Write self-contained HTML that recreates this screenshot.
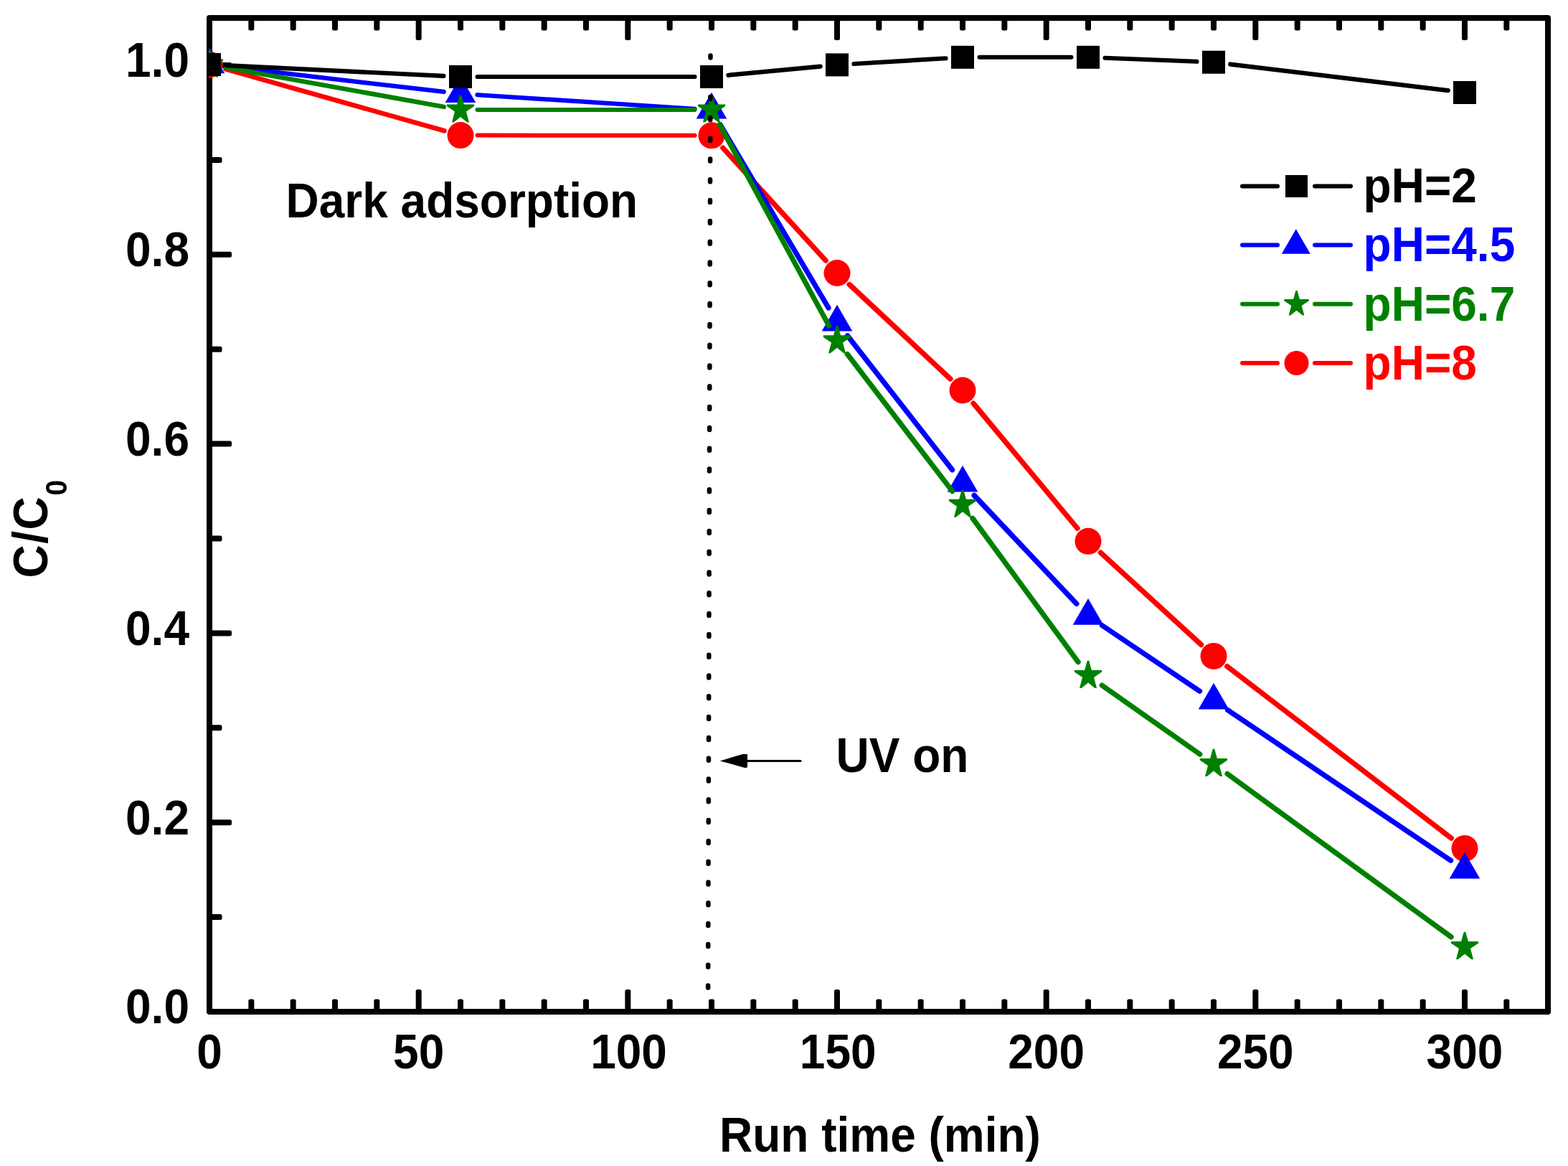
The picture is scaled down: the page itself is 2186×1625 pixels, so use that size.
<!DOCTYPE html>
<html><head><meta charset="utf-8"><title>C/C0 vs Run time</title>
<style>html,body{margin:0;padding:0;background:#fff;overflow:hidden}svg{display:block}</style>
</head><body>
<svg width="2186" height="1625" viewBox="0 0 2186 1625">
<defs><clipPath id="pc"><rect x="291" y="21" width="1871" height="1393"/></clipPath></defs>
<rect width="2186" height="1625" fill="#fff"/>
<g font-family="'Liberation Sans', Arial, sans-serif" font-weight="bold">
<g fill="#000"><rect x="346.33" y="1392.50" width="8" height="21.5" rx="2.5"/><rect x="346.33" y="21" width="8" height="21.5" rx="2.5"/><rect x="404.67" y="1392.50" width="8" height="21.5" rx="2.5"/><rect x="404.67" y="21" width="8" height="21.5" rx="2.5"/><rect x="463.00" y="1392.50" width="8" height="21.5" rx="2.5"/><rect x="463.00" y="21" width="8" height="21.5" rx="2.5"/><rect x="521.33" y="1392.50" width="8" height="21.5" rx="2.5"/><rect x="521.33" y="21" width="8" height="21.5" rx="2.5"/><rect x="579.67" y="1379.00" width="8" height="35" rx="2.5"/><rect x="579.67" y="21" width="8" height="35" rx="2.5"/><rect x="638.00" y="1392.50" width="8" height="21.5" rx="2.5"/><rect x="638.00" y="21" width="8" height="21.5" rx="2.5"/><rect x="696.33" y="1392.50" width="8" height="21.5" rx="2.5"/><rect x="696.33" y="21" width="8" height="21.5" rx="2.5"/><rect x="754.67" y="1392.50" width="8" height="21.5" rx="2.5"/><rect x="754.67" y="21" width="8" height="21.5" rx="2.5"/><rect x="813.00" y="1392.50" width="8" height="21.5" rx="2.5"/><rect x="813.00" y="21" width="8" height="21.5" rx="2.5"/><rect x="871.33" y="1379.00" width="8" height="35" rx="2.5"/><rect x="871.33" y="21" width="8" height="35" rx="2.5"/><rect x="929.67" y="1392.50" width="8" height="21.5" rx="2.5"/><rect x="929.67" y="21" width="8" height="21.5" rx="2.5"/><rect x="988.00" y="1392.50" width="8" height="21.5" rx="2.5"/><rect x="988.00" y="21" width="8" height="21.5" rx="2.5"/><rect x="1046.33" y="1392.50" width="8" height="21.5" rx="2.5"/><rect x="1046.33" y="21" width="8" height="21.5" rx="2.5"/><rect x="1104.67" y="1392.50" width="8" height="21.5" rx="2.5"/><rect x="1104.67" y="21" width="8" height="21.5" rx="2.5"/><rect x="1163.00" y="1379.00" width="8" height="35" rx="2.5"/><rect x="1163.00" y="21" width="8" height="35" rx="2.5"/><rect x="1221.33" y="1392.50" width="8" height="21.5" rx="2.5"/><rect x="1221.33" y="21" width="8" height="21.5" rx="2.5"/><rect x="1279.67" y="1392.50" width="8" height="21.5" rx="2.5"/><rect x="1279.67" y="21" width="8" height="21.5" rx="2.5"/><rect x="1338.00" y="1392.50" width="8" height="21.5" rx="2.5"/><rect x="1338.00" y="21" width="8" height="21.5" rx="2.5"/><rect x="1396.33" y="1392.50" width="8" height="21.5" rx="2.5"/><rect x="1396.33" y="21" width="8" height="21.5" rx="2.5"/><rect x="1454.67" y="1379.00" width="8" height="35" rx="2.5"/><rect x="1454.67" y="21" width="8" height="35" rx="2.5"/><rect x="1513.00" y="1392.50" width="8" height="21.5" rx="2.5"/><rect x="1513.00" y="21" width="8" height="21.5" rx="2.5"/><rect x="1571.33" y="1392.50" width="8" height="21.5" rx="2.5"/><rect x="1571.33" y="21" width="8" height="21.5" rx="2.5"/><rect x="1629.67" y="1392.50" width="8" height="21.5" rx="2.5"/><rect x="1629.67" y="21" width="8" height="21.5" rx="2.5"/><rect x="1688.00" y="1392.50" width="8" height="21.5" rx="2.5"/><rect x="1688.00" y="21" width="8" height="21.5" rx="2.5"/><rect x="1746.33" y="1379.00" width="8" height="35" rx="2.5"/><rect x="1746.33" y="21" width="8" height="35" rx="2.5"/><rect x="1804.67" y="1392.50" width="8" height="21.5" rx="2.5"/><rect x="1804.67" y="21" width="8" height="21.5" rx="2.5"/><rect x="1863.00" y="1392.50" width="8" height="21.5" rx="2.5"/><rect x="1863.00" y="21" width="8" height="21.5" rx="2.5"/><rect x="1921.33" y="1392.50" width="8" height="21.5" rx="2.5"/><rect x="1921.33" y="21" width="8" height="21.5" rx="2.5"/><rect x="1979.67" y="1392.50" width="8" height="21.5" rx="2.5"/><rect x="1979.67" y="21" width="8" height="21.5" rx="2.5"/><rect x="2038.00" y="1379.00" width="8" height="35" rx="2.5"/><rect x="2038.00" y="21" width="8" height="35" rx="2.5"/><rect x="2096.33" y="1392.50" width="8" height="21.5" rx="2.5"/><rect x="2096.33" y="21" width="8" height="21.5" rx="2.5"/><rect x="288" y="1274.10" width="21.5" height="8" rx="2.5"/><rect x="288" y="1142.20" width="35" height="8" rx="2.5"/><rect x="288" y="1010.30" width="21.5" height="8" rx="2.5"/><rect x="288" y="878.40" width="35" height="8" rx="2.5"/><rect x="288" y="746.50" width="21.5" height="8" rx="2.5"/><rect x="288" y="614.60" width="35" height="8" rx="2.5"/><rect x="288" y="482.70" width="21.5" height="8" rx="2.5"/><rect x="288" y="350.80" width="35" height="8" rx="2.5"/><rect x="288" y="218.90" width="21.5" height="8" rx="2.5"/><rect x="288" y="87.00" width="35" height="8" rx="2.5"/></g><rect x="292" y="25" width="1866" height="1385" fill="none" stroke="#000" stroke-width="8" stroke-linejoin="round"/><g clip-path="url(#pc)"><g stroke="#FF0000" stroke-linecap="round" fill="none"><line x1="314.62" y1="96.37" x2="619.38" y2="182.23" stroke-width="6.68"/><line x1="665.50" y1="188.61" x2="968.50" y2="188.79" stroke-width="6.00"/><line x1="1007.84" y1="206.16" x2="1151.16" y2="363.14" stroke-width="7.29"/><line x1="1184.17" y1="396.54" x2="1324.83" y2="527.96" stroke-width="7.30"/><line x1="1357.03" y1="562.06" x2="1501.97" y2="736.24" stroke-width="7.28"/><line x1="1534.34" y1="770.16" x2="1674.66" y2="898.54" stroke-width="7.29"/><line x1="1710.66" y1="928.69" x2="2023.34" y2="1168.11" stroke-width="7.26"/></g><circle cx="292.00" cy="90.00" r="18.5" fill="#FF0000"/><circle cx="642.00" cy="188.60" r="18.5" fill="#FF0000"/><circle cx="992.00" cy="188.80" r="18.5" fill="#FF0000"/><circle cx="1167.00" cy="380.50" r="18.5" fill="#FF0000"/><circle cx="1342.00" cy="544.00" r="18.5" fill="#FF0000"/><circle cx="1517.00" cy="754.30" r="18.5" fill="#FF0000"/><circle cx="1692.00" cy="914.40" r="18.5" fill="#FF0000"/><circle cx="2042.00" cy="1182.40" r="18.5" fill="#FF0000"/><g stroke="#0000FF" stroke-linecap="round" fill="none"><line x1="315.34" y1="92.71" x2="618.66" y2="127.99" stroke-width="6.30"/><line x1="665.45" y1="132.21" x2="968.55" y2="151.79" stroke-width="6.17"/><line x1="1003.96" y1="173.53" x2="1155.04" y2="429.07" stroke-width="7.14"/><line x1="1181.47" y1="467.82" x2="1327.53" y2="654.78" stroke-width="7.26"/><line x1="1358.14" y1="690.38" x2="1500.86" y2="841.42" stroke-width="7.30"/><line x1="1536.49" y1="871.62" x2="1672.51" y2="963.18" stroke-width="7.20"/><line x1="1711.48" y1="989.44" x2="2022.52" y2="1199.16" stroke-width="7.21"/></g><polygon points="292.00,65.40 313.30,102.30 270.70,102.30" fill="#0000FF"/><polygon points="642.00,106.10 663.30,143.00 620.70,143.00" fill="#0000FF"/><polygon points="992.00,128.70 1013.30,165.60 970.70,165.60" fill="#0000FF"/><polygon points="1167.00,424.70 1188.30,461.60 1145.70,461.60" fill="#0000FF"/><polygon points="1342.00,648.70 1363.30,685.60 1320.70,685.60" fill="#0000FF"/><polygon points="1517.00,833.90 1538.30,870.80 1495.70,870.80" fill="#0000FF"/><polygon points="1692.00,951.70 1713.30,988.60 1670.70,988.60" fill="#0000FF"/><polygon points="2042.00,1187.70 2063.30,1224.60 2020.70,1224.60" fill="#0000FF"/><g stroke="#008000" stroke-linecap="round" fill="none"><line x1="315.13" y1="94.16" x2="618.87" y2="148.84" stroke-width="6.45"/><line x1="665.50" y1="153.00" x2="968.50" y2="153.00" stroke-width="6.00"/><line x1="1003.22" y1="173.65" x2="1155.78" y2="454.25" stroke-width="7.09"/><line x1="1181.29" y1="493.55" x2="1327.71" y2="684.65" stroke-width="7.26"/><line x1="1355.91" y1="722.24" x2="1503.09" y2="922.66" stroke-width="7.24"/><line x1="1536.23" y1="955.11" x2="1672.77" y2="1051.09" stroke-width="7.22"/><line x1="1710.99" y1="1078.44" x2="2023.01" y2="1305.76" stroke-width="7.24"/></g><polygon points="290.80,69.20 293.20,69.20 296.90,82.40 311.10,82.40 311.10,85.00 300.00,92.50 304.00,107.40 301.30,107.40 292.00,99.90 282.70,107.40 280.00,107.40 284.00,92.50 272.90,85.00 272.90,82.40 287.10,82.40" fill="#008000"/><polygon points="640.80,132.20 643.20,132.20 646.90,145.40 661.10,145.40 661.10,148.00 650.00,155.50 654.00,170.40 651.30,170.40 642.00,162.90 632.70,170.40 630.00,170.40 634.00,155.50 622.90,148.00 622.90,145.40 637.10,145.40" fill="#008000"/><polygon points="990.80,132.20 993.20,132.20 996.90,145.40 1011.10,145.40 1011.10,148.00 1000.00,155.50 1004.00,170.40 1001.30,170.40 992.00,162.90 982.70,170.40 980.00,170.40 984.00,155.50 972.90,148.00 972.90,145.40 987.10,145.40" fill="#008000"/><polygon points="1165.80,454.10 1168.20,454.10 1171.90,467.30 1186.10,467.30 1186.10,469.90 1175.00,477.40 1179.00,492.30 1176.30,492.30 1167.00,484.80 1157.70,492.30 1155.00,492.30 1159.00,477.40 1147.90,469.90 1147.90,467.30 1162.10,467.30" fill="#008000"/><polygon points="1340.80,682.50 1343.20,682.50 1346.90,695.70 1361.10,695.70 1361.10,698.30 1350.00,705.80 1354.00,720.70 1351.30,720.70 1342.00,713.20 1332.70,720.70 1330.00,720.70 1334.00,705.80 1322.90,698.30 1322.90,695.70 1337.10,695.70" fill="#008000"/><polygon points="1515.80,920.80 1518.20,920.80 1521.90,934.00 1536.10,934.00 1536.10,936.60 1525.00,944.10 1529.00,959.00 1526.30,959.00 1517.00,951.50 1507.70,959.00 1505.00,959.00 1509.00,944.10 1497.90,936.60 1497.90,934.00 1512.10,934.00" fill="#008000"/><polygon points="1690.80,1043.80 1693.20,1043.80 1696.90,1057.00 1711.10,1057.00 1711.10,1059.60 1700.00,1067.10 1704.00,1082.00 1701.30,1082.00 1692.00,1074.50 1682.70,1082.00 1680.00,1082.00 1684.00,1067.10 1672.90,1059.60 1672.90,1057.00 1687.10,1057.00" fill="#008000"/><polygon points="2040.80,1298.80 2043.20,1298.80 2046.90,1312.00 2061.10,1312.00 2061.10,1314.60 2050.00,1322.10 2054.00,1337.00 2051.30,1337.00 2042.00,1329.50 2032.70,1337.00 2030.00,1337.00 2034.00,1322.10 2022.90,1314.60 2022.90,1312.00 2037.10,1312.00" fill="#008000"/><g stroke="#000000" stroke-linecap="round" fill="none"><line x1="315.47" y1="91.14" x2="618.53" y2="105.86" stroke-width="6.13"/><line x1="665.50" y1="107.00" x2="968.50" y2="107.00" stroke-width="6.00"/><line x1="1015.39" y1="104.78" x2="1143.61" y2="92.62" stroke-width="6.24"/><line x1="1190.46" y1="88.98" x2="1318.54" y2="81.22" stroke-width="6.16"/><line x1="1365.50" y1="79.80" x2="1493.50" y2="79.80" stroke-width="6.00"/><line x1="1540.48" y1="80.73" x2="1668.52" y2="85.77" stroke-width="6.10"/><line x1="1715.33" y1="89.52" x2="2018.67" y2="126.18" stroke-width="6.31"/></g><rect x="276.00" y="74.00" width="32" height="32" fill="#000000"/><rect x="626.00" y="91.00" width="32" height="32" fill="#000000"/><rect x="976.00" y="91.00" width="32" height="32" fill="#000000"/><rect x="1151.00" y="74.40" width="32" height="32" fill="#000000"/><rect x="1326.00" y="63.80" width="32" height="32" fill="#000000"/><rect x="1501.00" y="63.80" width="32" height="32" fill="#000000"/><rect x="1676.00" y="70.70" width="32" height="32" fill="#000000"/><rect x="2026.00" y="113.00" width="32" height="32" fill="#000000"/></g><line x1="990.5" y1="77.5" x2="987.1" y2="1388" stroke="#000" stroke-width="6.5" stroke-linecap="round" stroke-dasharray="3 25.8"/><line x1="1040" y1="1060.4" x2="1116" y2="1060.4" stroke="#000" stroke-width="3" stroke-linecap="round"/><polygon points="1003.8,1060.4 1035.2,1051 1042,1051 1042,1068.8 1040.8,1069.9 1038,1069.9" fill="#000"/>
<text transform="translate(264,1426.30) scale(1,1.085)" text-anchor="end" fill="#000" font-size="64" >0.0</text><text transform="translate(264,1162.50) scale(1,1.085)" text-anchor="end" fill="#000" font-size="64" >0.2</text><text transform="translate(264,898.70) scale(1,1.085)" text-anchor="end" fill="#000" font-size="64" >0.4</text><text transform="translate(264,634.90) scale(1,1.085)" text-anchor="end" fill="#000" font-size="64" >0.6</text><text transform="translate(264,371.10) scale(1,1.085)" text-anchor="end" fill="#000" font-size="64" >0.8</text><text transform="translate(264,107.30) scale(1,1.085)" text-anchor="end" fill="#000" font-size="64" >1.0</text><text transform="translate(292.00,1489) scale(1,1.085)" text-anchor="middle" fill="#000" font-size="64" >0</text><text transform="translate(583.67,1489) scale(1,1.085)" text-anchor="middle" fill="#000" font-size="64" >50</text><text transform="translate(876.53,1489) scale(1,1.085)" text-anchor="middle" fill="#000" font-size="64" >100</text><text transform="translate(1168.20,1489) scale(1,1.085)" text-anchor="middle" fill="#000" font-size="64" >150</text><text transform="translate(1458.67,1489) scale(1,1.085)" text-anchor="middle" fill="#000" font-size="64" >200</text><text transform="translate(1750.33,1489) scale(1,1.085)" text-anchor="middle" fill="#000" font-size="64" >250</text><text transform="translate(2042.00,1489) scale(1,1.085)" text-anchor="middle" fill="#000" font-size="64" >300</text><text transform="translate(1003,1605.3) scale(1,1.085)" text-anchor="start" fill="#000" font-size="64" >Run time (min)</text><text transform="translate(65.9,805.5) rotate(-90) scale(1,1.085)" fill="#000" font-size="64" letter-spacing="1.5">C/C<tspan font-size="39" dx="0.3" dy="25.3">0</tspan></text><text transform="translate(398.5,302.5) scale(1,1.085)" text-anchor="start" fill="#000" font-size="64" >Dark adsorption</text><text transform="translate(1165.5,1076) scale(1,1.085)" text-anchor="start" fill="#000" font-size="64" >UV on</text><g stroke="#000000" stroke-width="6" stroke-linecap="round"><line x1="1732" y1="259.5" x2="1781" y2="259.5"/><line x1="1833" y1="259.5" x2="1883" y2="259.5"/></g><rect x="1792.00" y="244.00" width="31" height="31" fill="#000000"/><text transform="translate(1900.6,282) scale(1,1.085)" text-anchor="start" fill="#000000" font-size="64" >pH=2</text><g stroke="#0000FF" stroke-width="6" stroke-linecap="round"><line x1="1732" y1="341.6" x2="1781" y2="341.6"/><line x1="1833" y1="341.6" x2="1883" y2="341.6"/></g><polygon points="1806.80,319.21 1826.80,353.85 1786.80,353.85" fill="#0000FF"/><text transform="translate(1900.6,364.3) scale(1,1.085)" text-anchor="start" fill="#0000FF" font-size="64" >pH=4.5</text><g stroke="#008000" stroke-width="6" stroke-linecap="round"><line x1="1732" y1="423.8" x2="1781" y2="423.8"/><line x1="1833" y1="423.8" x2="1883" y2="423.8"/></g><polygon points="1806.41,404.98 1808.59,404.98 1811.93,416.92 1824.78,416.92 1824.78,419.28 1814.74,426.06 1818.36,439.54 1815.91,439.54 1807.50,432.76 1799.09,439.54 1796.64,439.54 1800.26,426.06 1790.22,419.28 1790.22,416.92 1803.07,416.92" fill="#008000"/><text transform="translate(1900.6,447) scale(1,1.085)" text-anchor="start" fill="#008000" font-size="64" >pH=6.7</text><g stroke="#FF0000" stroke-width="6" stroke-linecap="round"><line x1="1732" y1="506" x2="1781" y2="506"/><line x1="1833" y1="506" x2="1883" y2="506"/></g><circle cx="1807.50" cy="506.00" r="17" fill="#FF0000"/><text transform="translate(1900.6,529.3) scale(1,1.085)" text-anchor="start" fill="#FF0000" font-size="64" >pH=8</text>
</g>
</svg>
</body></html>
